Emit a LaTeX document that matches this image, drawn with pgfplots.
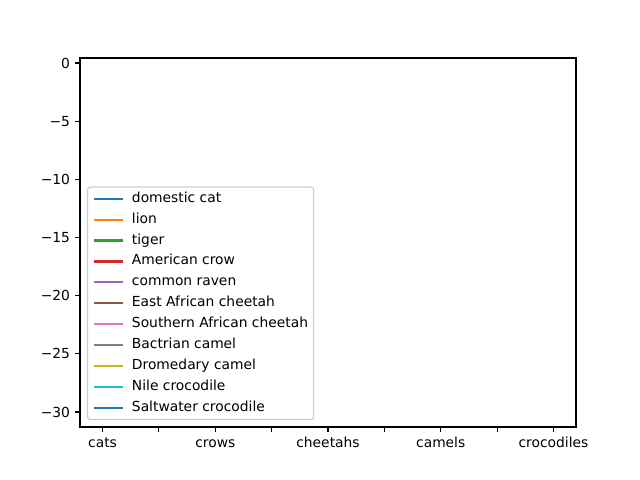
\documentclass[border=0pt]{standalone}
\usepackage{pgfplots}
\pgfplotsset{compat=1.18}
\usepackage{fontspec}
\setmainfont{DejaVu Sans}
\definecolor{c0}{HTML}{1F77B4}
\definecolor{c1}{HTML}{FF7F0E}
\definecolor{c2}{HTML}{2CA02C}
\definecolor{c3}{HTML}{D62728}
\definecolor{c4}{HTML}{9467BD}
\definecolor{c5}{HTML}{8C564B}
\definecolor{c6}{HTML}{E377C2}
\definecolor{c7}{HTML}{7F7F7F}
\definecolor{c8}{HTML}{BCBD22}
\definecolor{c9}{HTML}{17BECF}
\begin{document}
\fontsize{10}{12}\selectfont
\begin{tikzpicture}
\useasboundingbox (-0.8in,-0.53in) rectangle (5.6in,4.27in);
\begin{axis}[
  at={(0,0)}, anchor=south west,
  scale only axis, width=4.96in, height=3.69in,
  xmin=-0.4, xmax=8.4, ymin=-31.29, ymax=0.43,
  xtick={0,1,...,8},
  xticklabels={cats,,crows,,cheetahs,,camels,,crocodiles},
  ytick={-30,-25,...,0},
  yticklabels={−30,−25,−20,−15,−10,−5,0},
  tick align=outside, tick pos=left,
  major tick length=3.5bp,
  every tick/.style={line width=0.8bp, black},
  axis line style={line width=0.8bp},
  tick label style={font=\fontsize{10}{12}\selectfont},
  xticklabel style={anchor=north, inner ysep=3.5bp, text height=7.6pt, text depth=0pt},
  yticklabel style={inner xsep=3.5bp},
  legend cell align=left,
  legend image code/.code={\draw[#1, line width=1.6bp] (0pt,0pt) -- (20.5pt,0pt);},
  legend style={
    at={(0,0)}, anchor=south west, xshift=5bp, yshift=5bp,
    draw=black!20, line width=0.8bp, rounded corners=2pt,
    fill=white, fill opacity=0.8, text opacity=1,
    font=\fontsize{10}{12}\selectfont,
    inner xsep=4bp, inner ysep=3.5pt,
    row sep=5.1pt, column sep=6bp,
    nodes={inner xsep=0pt, inner ysep=0pt, text height=7.5pt, text depth=2.5pt, anchor=west},
  },
]
\addlegendimage{c0}\addlegendentry{domestic cat}
\addlegendimage{c1}\addlegendentry{lion}
\addlegendimage{c2}\addlegendentry{tiger}
\addlegendimage{c3}\addlegendentry{American crow}
\addlegendimage{c4}\addlegendentry{common raven}
\addlegendimage{c5}\addlegendentry{East African cheetah}
\addlegendimage{c6}\addlegendentry{Southern African cheetah}
\addlegendimage{c7}\addlegendentry{Bactrian camel}
\addlegendimage{c8}\addlegendentry{Dromedary camel}
\addlegendimage{c9}\addlegendentry{Nile crocodile}
\addlegendimage{c0}\addlegendentry{Saltwater crocodile}
\end{axis}
\end{tikzpicture}
\end{document}
